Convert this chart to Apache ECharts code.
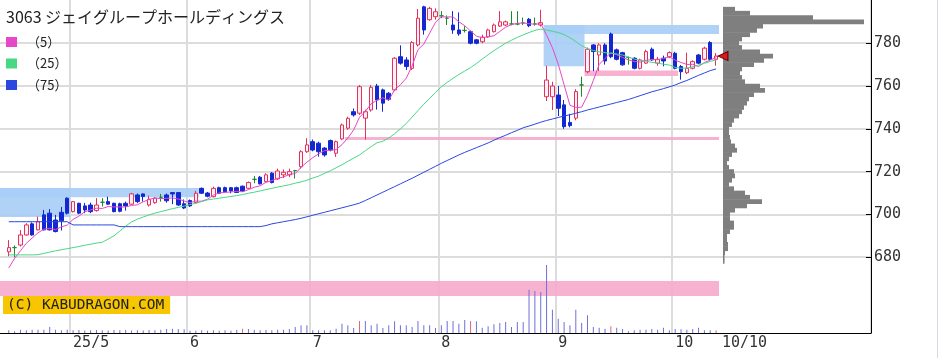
<!DOCTYPE html>
<html><head><meta charset="utf-8">
<script src="https://cdn.jsdelivr.net/npm/echarts@6/dist/echarts.min.js"></script>
<style>html,body{margin:0;padding:0;background:#fff}#c{width:938px;height:358px}</style>
</head><body><div id="c"></div>
<script>
const dates = [
'4/15','4/16','4/17','4/18','4/21','4/22','4/23','4/24','4/25','4/28','4/30',
'5/1','5/2','5/7','5/8','5/9','5/12','5/13','5/14','5/15','5/16','5/19','5/20','5/21','5/22','5/23','5/26','5/27','5/28','5/29','5/30',
'6/2','6/3','6/4','6/5','6/6','6/9','6/10','6/11','6/12','6/13','6/16','6/17','6/18','6/19','6/20','6/23','6/24','6/25','6/26','6/27','6/30',
'7/1','7/2','7/3','7/4','7/7','7/8','7/9','7/10','7/11','7/14','7/15','7/16','7/17','7/18','7/22','7/23','7/24','7/25','7/28','7/29','7/30','7/31',
'8/1','8/4','8/5','8/6','8/7','8/8','8/12','8/13','8/14','8/15','8/18','8/19','8/20','8/21','8/22','8/25','8/26','8/27','8/28','8/29',
'9/1','9/2','9/3','9/4','9/5','9/8','9/9','9/10','9/11','9/12','9/16','9/17','9/18','9/19','9/22','9/24','9/25','9/26','9/29','9/30',
'10/1','10/2','10/3','10/6','10/7','10/8','10/9','10/10'];
const opens = [
682.5,684.5,685.7,690.4,695.6,692.8,699.8,700.6,697.4,701,
707.6,701.3,705.2,704,704.4,701.8,705.7,706,705.2,705,
705.2,704.8,709.1,709.6,704.4,705.5,708,709.1,710.2,710.2,
705,706.5,705.5,712.2,710,708.3,712.5,712.5,712.5,712.5,
713.2,712.2,716.4,717.4,715.3,719.3,716.6,718.5,718.5,720.5,
722.3,729.3,734,733.3,731,734.5,728.6,735.3,740.3,748,
747.3,745,748.8,760,758.2,756.6,758.2,773.7,772.2,768.3,
779.2,797,791,792.4,792.8,791.7,788.5,786.2,786,785.4,
781.6,780.7,783,785.4,788,788.5,789,789,789.5,791.2,
789,788.5,755,755,755.8,751.2,743,745,760.5,766.7,
779.2,774.5,779.2,784.3,776.9,775.6,773.3,773,768.3,770.7,
777.2,770.7,773,773.7,775.3,769.1,766.2,768.3,774.5,772.5,
780.3,772.5];
const closes = [
684.5,684.5,690.4,695.1,690.4,696.6,692.8,692.8,692,697,
700.6,706,700.6,702.1,701.3,704.4,705.7,704.8,701.3,701.5,
704,709.6,706,708.4,707.1,707.6,708,706.4,709.6,704.4,
703,704,709.9,709.9,708.5,712.2,709.9,710.6,711,710.3,
711,714.9,716.4,714.3,718.5,714.9,720.3,719.7,720,720.5,
729.3,732.5,730.1,729.3,727.8,730.1,734,741.8,744.9,746.5,
759.7,748,759.4,753.5,752,753.8,773,770.7,769.1,780.3,
791.7,786.2,796.3,794.7,792.8,791.7,786.2,784.4,786,780,
780,782.8,786.2,788.5,790,790,789,789,789.5,788.2,
789,789.6,762.8,760,749.6,741,741.5,757.4,760.5,777.2,
776.1,779.2,771.7,773.7,772.5,769.9,773.3,768.3,772.2,776.1,
772.2,772.5,771.7,775.6,768.3,766.7,768.3,771.4,770.7,777.7,
772.5,774];
const lows = [
680.5,680,685,690.1,690.1,692.5,692.5,692.5,691.6,692.5,
700,700.9,700.1,700.6,700.6,701.3,703.7,704.5,701,701,
701.8,704.5,705.3,706,703.7,705,706,705.5,704.8,704,
702.5,703.5,705,709.6,708,708,709.5,710.2,709.9,710,
710.6,711.8,714.6,714,715,714.5,716.2,717,717.4,716.8,
721.4,728.8,729.5,727,727,729.5,726.9,734.8,739.5,745.7,
746.5,735,748,749,748,753,757.6,770,767.5,767.5,
778.5,784,790.5,791,791.7,788.5,784.4,783.5,785,779.5,
779.5,780,782.5,785,787.6,788,788.4,788.4,788.5,787.5,
788.2,787.8,753,748.8,746,740,740.7,744,755,766,
767,767,770,773,772,769.5,770,767.8,767.8,770.3,
771.8,769.5,769.2,773,767.8,763,765.6,767.8,770.2,772,
772,769.5];
const highs = [
688,685.5,692.7,695.9,696.3,699,702.1,702.5,699.8,703.5,
708,706.3,705.5,705.4,705.5,707.6,707.6,708.3,705.5,705.5,
706,710.1,709.8,709.8,708.8,708,709.6,709.8,710.4,710.4,
707,707,711,712.6,710.5,713,713,713,712.8,713,
713.5,715.4,718,718,719.2,719.8,721.4,721,721.4,720.8,
730,735.6,735,734,731.5,735,734.5,742.5,745.7,749.5,
760.5,749,760.5,761,758.8,757.2,773.5,779,773.5,781,
796,797.5,797,796.3,795,793,795,794.4,788,786,
782,784,786.8,789.2,795,790.6,795,795,792,791.8,
792,795.6,769.5,762,760,753.5,747,758.5,764.4,778,
779.6,780,780,785,777.5,776,773.8,773.5,772.8,777,
778,773.6,774.2,776.2,776,769.8,775.6,772,775,778.4,
781,775.4];
const ma5 = [
675,679.5,683,686.5,689,691.4,693.1,693.5,692.9,694.2,
695,697.7,699.2,701.3,702.1,702.9,702.8,703.7,703.5,703.5,
703.5,704.2,704.5,705.9,707,707.7,707.4,707.5,707.7,707.2,
706.3,705.5,706.2,706.2,707.1,709,710.1,710.3,710.5,710.8,
710.6,711.6,712.7,713.4,715,715.8,716.9,717.5,718.7,719.1,
722,724.4,726.5,728.3,729.8,730,730.3,732.6,735.7,739.5,
745.4,748.2,751.7,753.4,754.5,753.3,758.3,760.6,763.7,769.4,
777,779.6,784.7,789.8,792.3,792.3,792.3,790,788.2,785.7,
783.3,782.6,783,783.5,785.5,787.5,788.7,789.3,789.5,789.1,
788.9,789.1,783.8,777.9,770.2,760.6,751,750,750.1,755.6,
762.6,770.1,772.9,775.6,774.6,773.4,772.2,771.5,771.2,772,
772.4,772.3,772.9,773.6,772.1,771,770.1,770.1,769.1,771,
772.1,773.3];
const ma25 = [
681.1,681.1,681.1,681.1,681.1,681.2,681.8,682.4,683,683.5,
684,684.5,685,685.6,686.1,686.6,687,688.5,690,692.2,
694.5,696.5,697.8,698.8,699.8,700.6,701.3,702,702.7,703.3,
703.9,704.6,705.2,706,706.8,707.2,707.6,708,708.4,708.8,
709.3,709.9,710.4,711,711.6,712.2,712.8,713.3,713.9,714.6,
715.2,716,717,717.9,719.2,720.4,721.8,723.2,724.8,726.3,
727.8,729.8,731.7,733.5,734.2,735.7,737.7,740,742.5,745.5,
748.5,751.5,754.2,757,759.6,761.7,763.6,765.4,767,768.6,
770.5,772.6,774.6,776.5,778.3,780,781.4,782.7,783.9,785,
786,786.6,786.2,785.6,785,784,782.6,780.8,778.8,777.5,
776.6,776,775.6,775.3,775,774.5,773.5,772.6,772.1,771.6,
771.1,770.7,770.2,769.8,768.7,768.3,768.4,769,769.8,770.6,
771.5,772.2];
const ma75 = [
696.6,696.6,696.6,696.6,696.6,696.6,696.6,696.6,696.6,696.6,
696.6,695.1,695.1,695.1,695.1,695.1,695.1,695.1,695.1,694.3,
694.3,694.3,694.3,694.3,694.3,694.3,694.3,694.3,694.3,694.3,
694.3,694.3,694.3,694.3,694.3,694.3,694.3,694.3,694.3,694.3,
694.3,694.3,694.3,694.3,694.8,695.6,696.1,696.6,697.1,697.6,
698.2,698.9,699.6,700.3,701,701.7,702.4,703.1,703.8,704.5,
705.3,706.5,707.8,709.1,710.4,711.7,713,714.3,715.6,716.9,
718.3,719.7,721.1,722.5,723.9,725.2,726.5,727.8,729,730.1,
731.2,732.3,733.4,734.7,735.9,737,738.2,739.3,740.5,741.3,
742.2,743.1,743.9,744.6,745.3,746,746.6,747.3,748,748.8,
749.5,750.2,750.9,751.6,752.3,753,753.7,754.6,755.5,756.4,
757.3,758,758.8,759.6,760.5,761.6,762.6,763.8,765,766.1,
767.2,768];
const volumes = [
27,17,33,27,33,33,33,60,33,27,33,
27,30,25,27,30,27,25,30,27,30,25,27,25,30,27,33,40,43,40,37,
23,23,27,23,27,23,27,23,30,43,40,33,27,30,27,33,33,40,60,77,77,
27,27,27,27,43,93,77,50,120,120,77,93,50,77,117,77,77,60,120,77,77,50,77,120,120,93,
130,120,117,53,67,87,100,110,60,110,110,433,420,410,680,233,143,110,77,233,
100,177,60,53,43,67,53,40,17,27,33,33,40,33,53,27,40,37,33,40,53,27,27,27];
const volumeRedIdx = [40,60,79,103,121];
const profileBins = [678,680,682,684,686,688,690,692,694,696,698,700,702,704,706,708,710,712,714,716,
718,720,722,724,726,728,730,732,734,736,738,740,742,744,746,748,750,752,754,756,
758,760,762,764,766,768,770,772,774,776,778,780,782,784,786,788,790,792,794,796];
const profileVol = [1.5,1.5,2,5,5,4,4,7,11,11,7,7,12,24,39,27,22,11,6,9,
12,11,6,4,6,9,14,12,8,7,6,6,9,11,16,19,21,24,26,31,
42,37,22,19,17,19,31,41,50,37,19,16,19,27,34,40,141,90,27,12];
const tickIdx = [11,31,52,74,94,114,122];
const tickLabels = ['25/5','6','7','8','9','10','10/10'];
const monthIdx = [11,31,52,74,94,114];
const yTicks = [680,700,720,740,760,780];
const lastClose = 774;
// zones: [startIdx, endIdx, low, high]  (index -1 = left edge of the chart)
const blueZones = [[-1,11,698.8,712.4],[-1,33,708,712.4],[92,99,769.3,788.5],[92,122,784.3,788.5]];
const pinkZones = [[99,115,764.7,767.2],[58,122,734.8,736.2],[-1,122,661.9,668.9]];

// category 0 is a blank lead-in slot, trading days start at category 1
const N = 149;
const cats = ['_lead'].concat(dates);
for (let i = cats.length; i < N; i++) cats.push('_' + i);
const lead = ['-'];
const candleData = lead.concat(opens.map((o, i) => [o, closes[i], lows[i], highs[i]]));
const volData = lead.concat(volumes.map((v, i) => ({value: v, itemStyle: {color: volumeRedIdx.includes(i) ? '#d46a7a' : '#6e70d8'}})));
const zoneData = blueZones.map(z => [{coord: [z[0], z[2]], itemStyle: {color: '#a9cdf6'}}, {coord: [z[1], z[3]]}])
  .concat(pinkZones.map(z => [{coord: [z[0], z[2]], itemStyle: {color: '#f6a8cc'}}, {coord: [z[1], z[3]]}]));

const chart = echarts.init(document.getElementById('c'), null, {renderer: 'canvas'});
const mono = 'DejaVu Sans Mono';
const jp = 'Noto Sans CJK JP';
chart.setOption({
  animation: false,
  backgroundColor: '#fff',
  title: [
    {text: '3063 ジェイグループホールディングス', left: 6, top: 9, padding: 0,
     textStyle: {fontFamily: jp, fontSize: 16, fontWeight: 'normal', color: '#222'}},
    {text: '(C) KABUDRAGON.COM', left: 3, top: 296, padding: [2, 6, 1, 4], backgroundColor: '#f7c600',
     textStyle: {fontFamily: mono, fontSize: 14.5, fontWeight: 'normal', color: '#222'}}
  ],
  legend: {
    orient: 'vertical', left: 6, top: 35, itemWidth: 11, itemHeight: 10, itemGap: 7.5, icon: 'rect',
    padding: 0, data: ['（5）', '（25）', '（75）'],
    textStyle: {fontFamily: jp, fontSize: 13, color: '#222', lineHeight: 14, padding: [0, 0, 0, 5]}
  },
  graphic: [{type: 'line', shape: {x1: 937.5, y1: 0, x2: 937.5, y2: 358}, style: {stroke: '#d4d8e4', lineWidth: 1}, silent: true}],
  grid: [
    {left: -2.865, right: 67, top: 0, bottom: 25},
    {left: 723, right: 67, top: 6.85, bottom: 94.35}
  ],
  xAxis: [
    {type: 'category', gridIndex: 0, data: cats, boundaryGap: true,
     axisLine: {onZero: false, lineStyle: {color: '#000', width: 1}},
     axisTick: {show: false},
     axisLabel: {interval: (i) => tickIdx.includes(i - 1), formatter: (v, i) => tickLabels[tickIdx.indexOf(i - 1)] || '',
       align: 'left', margin: 3, color: '#333', fontFamily: mono, fontSize: 15},
     splitLine: {show: true, interval: (i) => monthIdx.includes(i - 1), lineStyle: {color: '#dcdcdc', width: 2}}},
    {type: 'value', gridIndex: 0, min: -1, max: N - 1, show: false, axisLine: {onZero: false}},
    {type: 'value', gridIndex: 1, min: 0, max: 148, show: false, axisLine: {onZero: false}}
  ],
  yAxis: [
    {type: 'value', gridIndex: 0, position: 'right', min: 644.6, max: 800.2,
     axisLine: {show: true, onZero: false, lineStyle: {color: '#000', width: 1}},
     axisTick: {show: true, inside: true, length: 5, customValues: yTicks, lineStyle: {color: '#000', width: 1}},
     axisLabel: {customValues: yTicks, margin: 3, color: '#333', fontFamily: mono, fontSize: 15},
     splitLine: {show: true, lineStyle: {color: '#dcdcdc', width: 2}}},
    {type: 'value', gridIndex: 0, min: 0, max: 3330, show: false, axisLine: {onZero: false}},
    {type: 'category', gridIndex: 1, data: profileBins, show: false, axisLine: {onZero: false}}
  ],
  series: [
    {type: 'line', name: 'zones', xAxisIndex: 1, yAxisIndex: 0, data: [], silent: true,
     markArea: {silent: true, itemStyle: {opacity: 0.9}, data: zoneData}},
    {type: 'bar', name: 'vol', xAxisIndex: 0, yAxisIndex: 1, data: volData, barWidth: 1, silent: true},
    {type: 'bar', name: 'profile', xAxisIndex: 2, yAxisIndex: 2, data: profileVol, barWidth: 4.8,
     itemStyle: {color: '#7f7f7f'}, silent: true},
    {type: 'candlestick', name: 'price', xAxisIndex: 0, yAxisIndex: 0, data: candleData, barWidth: 4,
     itemStyle: {color: '#fff0f5', color0: '#1428d2', borderColor: '#e4305c', borderColor0: '#1428d2',
       borderColorDoji: '#1e8a2e', borderWidth: 1},
     markPoint: {silent: true, data: [{coord: [cats[123], lastClose], symbol: 'triangle', symbolSize: [9, 10],
       symbolRotate: 90, symbolOffset: [1, 0], itemStyle: {color: '#e01818', borderColor: '#500', borderWidth: 1},
       label: {show: false}}]}},
    {type: 'line', name: '（5）', xAxisIndex: 0, yAxisIndex: 0, data: lead.concat(ma5), symbol: 'none', color: '#e848c8',
     lineStyle: {width: 1}, silent: true},
    {type: 'line', name: '（25）', xAxisIndex: 0, yAxisIndex: 0, data: lead.concat(ma25), symbol: 'none', color: '#48d884',
     lineStyle: {width: 1}, silent: true},
    {type: 'line', name: '（75）', xAxisIndex: 0, yAxisIndex: 0, data: lead.concat(ma75), symbol: 'none', color: '#2a48e0',
     lineStyle: {width: 1}, silent: true}
  ]
});
</script></body></html>
